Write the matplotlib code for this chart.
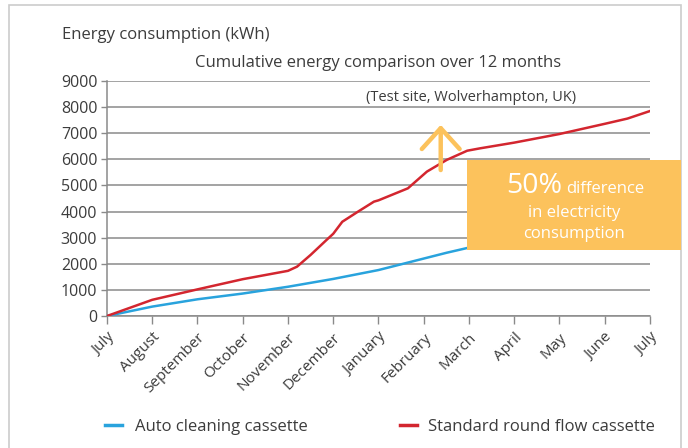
import matplotlib
matplotlib.use('Agg')
import matplotlib.pyplot as plt
from matplotlib.patches import Rectangle
from matplotlib.lines import Line2D

plt.rcParams['font.family'] = ['Open Sans', 'DejaVu Sans']

# months on the x axis (12 monthly intervals, July to July)
months = ['July', 'August', 'September', 'October', 'November', 'December',
          'January', 'February', 'March', 'April', 'May', 'June', 'July']

# cumulative energy (kWh); x in month index
red_x = [0, 1, 2, 3, 4, 4.2, 4.5, 4.85, 5.0, 5.2, 5.55, 5.9, 6.0, 6.65,
         7.07, 7.51, 7.96, 8.24, 9, 10, 11, 11.5, 12]
red_y = [0, 620, 1020, 1410, 1730, 1890, 2340, 2910, 3150, 3610, 4000, 4380,
         4430, 4890, 5530, 5980, 6330, 6420, 6640, 6970, 7360, 7560, 7850]

blue_x = [0, 1, 2, 3, 4, 5, 6, 7, 7.5, 8, 9, 10, 11, 12]
blue_y = [0, 360, 640, 860, 1120, 1420, 1760, 2200, 2420, 2620, 2980, 3320, 3650, 3950]

y_ticks = list(range(0, 10000, 1000))

BLUE = '#29a3dd'
RED = '#d3262f'
ORANGE = '#fcc25c'
TXT = '#3c3c3c'
GRID = '#8a8a8a'

W, H = 688, 448
fig = plt.figure(figsize=(W / 100, H / 100), dpi=100)
ax = fig.add_axes([107 / W, 1 - 316 / H, (650 - 107) / W, (316 - 81) / H])


def fx(px):
    return px / W


def fy(py):
    return 1 - py / H


# outer light frame
fig.add_artist(Rectangle((fx(9), -0.05), fx(681) - fx(9), fy(5) + 0.05,
                         transform=fig.transFigure, fill=False,
                         edgecolor='#cccccc', lw=1.2, zorder=0))

ax.plot(blue_x, blue_y, color=BLUE, lw=1.8, zorder=3)
ax.plot(red_x, red_y, color=RED, lw=1.8, zorder=3)

ax.set_xlim(0, 12)
ax.set_ylim(0, 9000)
ax.set_yticks(y_ticks)
ax.set_yticklabels([str(v) for v in y_ticks], fontsize=11.5, color=TXT)
ax.set_xticks(range(len(months)))
ax.set_xticklabels(months, rotation=45, ha='right', rotation_mode='anchor',
                   fontsize=11, color=TXT)
ax.tick_params(axis='y', length=4, width=1, color=GRID, pad=3)
ax.tick_params(axis='x', length=6, width=1, color=GRID, pad=4)

ax.grid(axis='y', color=GRID, lw=1.1)
ax.set_axisbelow(True)
for s in ['top', 'right']:
    ax.spines[s].set_visible(False)
for s in ['left', 'bottom']:
    ax.spines[s].set_color(GRID)
    ax.spines[s].set_linewidth(1.1)

# arrow pointing up
ax.annotate('', xy=(7.375, 7320), xytext=(7.375, 5590),
            arrowprops=dict(arrowstyle='->,head_length=0.75,head_width=0.68',
                            color=ORANGE, lw=3.2, mutation_scale=20,
                            shrinkA=0, shrinkB=0),
            zorder=5)

# texts
fig.text(fx(62), fy(35), 'Energy consumption (kWh)', fontsize=12,
         color=TXT, ha='left', va='center')
fig.text(fx(378), fy(63), 'Cumulative energy comparison over 12 months',
         fontsize=12, color=TXT, ha='center', va='center')
fig.text(fx(471), fy(97), '(Test site, Wolverhampton, UK)', fontsize=10.5,
         color=TXT, ha='center', va='center')

# callout box
fig.add_artist(Rectangle((fx(467), fy(250)), fx(681) - fx(467), fy(160) - fy(250),
                         transform=fig.transFigure, facecolor=ORANGE,
                         edgecolor='none', zorder=4))
fig.text(fx(562), fy(193), '50%', fontsize=20.5, color='white',
         ha='right', va='baseline', zorder=5)
fig.text(fx(566), fy(193), 'difference', fontsize=12, color='white',
         ha='left', va='baseline', zorder=5)
fig.text(fx(574), fy(213), 'in electricity', fontsize=12, color='white',
         ha='center', va='center', zorder=5)
fig.text(fx(574), fy(234), 'consumption', fontsize=12, color='white',
         ha='center', va='center', zorder=5)

# legend (drawn by hand to match spacing)
legend_items = [('Auto cleaning cassette', BLUE, 105, 135),
                ('Standard round flow cassette', RED, 400, 428)]
for label, col, hx, tx in legend_items:
    fig.add_artist(Line2D([fx(hx), fx(hx + 17)], [fy(425), fy(425)],
                          transform=fig.transFigure, color=col, lw=2.5))
    fig.text(fx(tx), fy(427), label, fontsize=12, color=TXT,
             ha='left', va='center')

fig.savefig('out.png', dpi=100)
